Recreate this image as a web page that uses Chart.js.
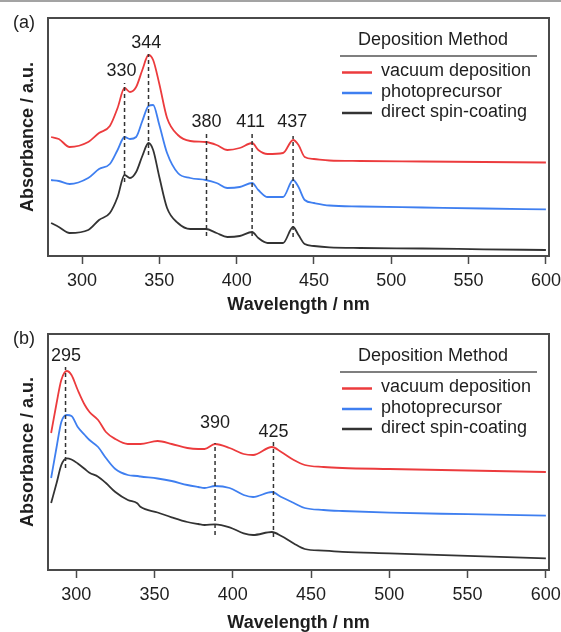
<!DOCTYPE html>
<html>
<head>
<meta charset="utf-8">
<title>Absorbance spectra by deposition method</title>
<script src="https://cdn.jsdelivr.net/npm/chart.js@4.4.1/dist/chart.umd.min.js"></script>
<style>
    body { margin: 0; background: #fff; }
    #topline { position: absolute; left: 0; top: 0; width: 561px; height: 2px; background: #a3a3a3; z-index: 2; }
    canvas { position: absolute; left: 0; }
    #chartA { top: 0; }
    #chartB { top: 316px; }
</style>
</head>
<body>
<div id="topline"></div>
<canvas id="chartA" width="561" height="316"></canvas>
<canvas id="chartB" width="561" height="316"></canvas>
<script>
const FONT = '"Liberation Sans", Arial, Helvetica, sans-serif';
const TEXT = '#1e1e1e';

// Legend
const legendTitle = 'Deposition Method';
const seriesNames = ['vacuum deposition', 'photoprecursor', 'direct spin-coating'];
const seriesColors = ['#ec3b3d', '#3f7ff0', '#333333'];
const xTicks = [300, 350, 400, 450, 500, 550, 600];

// Panel (a)
const wavelengthA = [280, 285, 292, 304, 311, 318, 323, 327.5, 331, 335, 339, 343, 346, 350, 355, 362, 370,
    380, 387, 394, 402, 410, 414, 420, 430, 436.5, 440, 444, 450, 460, 480, 520, 560, 600];
const vacuumA = [1.19, 1.17, 1.09, 1.14, 1.23, 1.30, 1.48, 1.68, 1.64, 1.69, 1.86, 2.01, 1.96, 1.72, 1.38, 1.21, 1.15,
    1.14, 1.11, 1.06, 1.08, 1.13, 1.06, 1.02, 1.03, 1.16, 1.11, 0.99, 0.97, 0.955, 0.95, 0.945, 0.94, 0.935];
const photoA = [0.76, 0.75, 0.72, 0.78, 0.87, 0.92, 1.06, 1.19, 1.17, 1.19, 1.35, 1.50, 1.51, 1.31, 1.03, 0.83, 0.78,
    0.76, 0.73, 0.68, 0.69, 0.73, 0.66, 0.59, 0.59, 0.76, 0.69, 0.56, 0.53, 0.505, 0.495, 0.485, 0.475, 0.467];
const spinA = [0.33, 0.29, 0.23, 0.26, 0.36, 0.43, 0.59, 0.81, 0.78, 0.84, 1.00, 1.13, 1.06, 0.79, 0.48, 0.33, 0.27,
    0.27, 0.23, 0.19, 0.20, 0.24, 0.18, 0.13, 0.13, 0.29, 0.21, 0.12, 0.10, 0.087, 0.08, 0.075, 0.067, 0.06];
const peakLabelsA = ['330', '344', '380', '411', '437'];
const peakPosA = [327.5, 343, 380.5, 410, 436.5];
const peakTopA = [1.73, 2.02, 1.23, 1.23, 1.20];
const peakBottomA = [0.74, 1.01, 0.20, 0.20, 0.19];
const labelXA = [325.5, 341.5, 380.5, 409, 436];
const labelYA = [1.85, 2.13, 1.34, 1.34, 1.34];

// Panel (b)
const wavelengthB = [284, 287.5, 290.5, 294, 297, 301, 305.5, 308.5, 314, 319, 325, 333, 339, 341, 352, 361,
    371, 378, 382, 388.7, 398, 407, 413, 425, 431, 439, 446, 458, 470, 500, 550, 600];
const vacuumB = [1.37, 1.67, 1.90, 1.99, 1.95, 1.80, 1.65, 1.58, 1.50, 1.38, 1.31, 1.26, 1.26, 1.26, 1.29, 1.26,
    1.22, 1.21, 1.21, 1.26, 1.22, 1.16, 1.15, 1.23, 1.18, 1.10, 1.05, 1.03, 1.02, 1.01, 0.995, 0.98];
const photoB = [0.92, 1.23, 1.48, 1.55, 1.54, 1.43, 1.35, 1.30, 1.23, 1.12, 1.01, 0.95, 0.94, 0.935, 0.915, 0.89,
    0.85, 0.83, 0.82, 0.84, 0.82, 0.75, 0.73, 0.78, 0.73, 0.67, 0.62, 0.60, 0.59, 0.573, 0.558, 0.543];
const spinB = [0.67, 0.87, 1.05, 1.117, 1.105, 1.065, 1.01, 0.973, 0.933, 0.87, 0.78, 0.70, 0.667, 0.633, 0.575, 0.527,
    0.48, 0.46, 0.45, 0.457, 0.427, 0.367, 0.35, 0.38, 0.34, 0.265, 0.21, 0.193, 0.182, 0.167, 0.142, 0.117];
const peakLabelsB = ['295', '390', '425'];
const peakPosB = [293.2, 388.7, 426];
const peakTopB = [2.03, 1.27, 1.28];
const peakBottomB = [1.02, 0.35, 0.33];
const labelXB = [293.5, 388.7, 426];
const labelYB = [2.14, 1.467, 1.383];

Chart.defaults.font.family = FONT;
Chart.defaults.font.size = 18;
Chart.defaults.color = TEXT;

// Frame, peak labels, panel tag and the legend box
const annotate = {
    id: 'annotate',
    afterDatasetsDraw(chart, args, opts) {
        const { ctx, chartArea: area, scales: { x, y } } = chart;
        ctx.save();

        ctx.strokeStyle = '#4a4a4a';
        ctx.lineWidth = 2;
        ctx.strokeRect(area.left, area.top, area.right - area.left, area.bottom - area.top);

        ctx.font = `18px ${FONT}`;
        ctx.fillStyle = TEXT;
        ctx.textAlign = 'center';
        ctx.textBaseline = 'middle';
        opts.labels.forEach((t, i) => {
            ctx.fillText(t, x.getPixelForValue(opts.labelX[i]), y.getPixelForValue(opts.labelY[i]));
        });

        ctx.textAlign = 'left';
        ctx.fillText(opts.tag, 13, area.top + 5);

        // legend
        const r = area.right, t = area.top;
        ctx.textAlign = 'center';
        ctx.fillText(legendTitle, r - 116, t + 22);
        ctx.strokeStyle = '#555';
        ctx.lineWidth = 1.5;
        ctx.beginPath();
        ctx.moveTo(r - 209, t + 38);
        ctx.lineTo(r - 12, t + 38);
        ctx.stroke();

        ctx.textAlign = 'left';
        ctx.lineWidth = 2.5;
        const rows = [54.5, 75, 95];
        chart.data.datasets.filter(d => !d.marker).forEach((d, i) => {
            ctx.strokeStyle = d.borderColor;
            ctx.beginPath();
            ctx.moveTo(r - 207, t + rows[i]);
            ctx.lineTo(r - 177, t + rows[i]);
            ctx.stroke();
            ctx.fillText(d.label, r - 168, t + rows[i] - 1);
        });
        ctx.restore();
    }
};

const makeChart = (id, p) => {
    const series = [p.vacuum, p.photo, p.spin].map((vals, s) => ({
        label: seriesNames[s],
        data: p.wavelength.map((w, i) => ({ x: w, y: vals[i] })),
        borderColor: seriesColors[s],
        borderWidth: 1.8,
        pointRadius: 0,
        cubicInterpolationMode: 'monotone',
        order: 1
    }));
    const markers = p.peakPos.map((w, i) => ({
        marker: true,
        data: [{ x: w, y: p.peakBottom[i] }, { x: w, y: p.peakTop[i] }],
        borderColor: '#333',
        borderWidth: 1.5,
        borderDash: [4, 3],
        pointRadius: 0,
        order: 0
    }));

    return new Chart(document.getElementById(id), {
        type: 'line',
        data: { datasets: series.concat(markers) },
        options: {
            responsive: false,
            animation: false,
            devicePixelRatio: 1,
            layout: { padding: { top: p.top, right: 12, left: 0, bottom: 0 } },
            plugins: {
                legend: { display: false },
                tooltip: { enabled: false },
                annotate: { labels: p.labels, labelX: p.labelX, labelY: p.labelY, tag: p.tag }
            },
            scales: {
                x: {
                    type: 'linear',
                    min: p.xMin,
                    max: 602,
                    afterBuildTicks: (s) => { s.ticks = xTicks.map(v => ({ value: v })); },
                    afterFit: (s) => { s.height = p.axisHeight; s.paddingLeft = 0; s.paddingRight = 0; },
                    border: { display: false },
                    grid: { drawOnChartArea: false, drawTicks: true, tickLength: 8, tickColor: '#4a4a4a', tickWidth: 1.5 },
                    ticks: { padding: 6, maxRotation: 0, font: { size: 18 } },
                    title: {
                        display: true,
                        text: 'Wavelength / nm',
                        font: { size: 18, weight: 'bold' },
                        padding: { top: 0, bottom: p.titlePad }
                    }
                },
                y: {
                    min: 0,
                    max: p.yMax,
                    afterFit: (s) => { s.width = 48; },
                    border: { display: false },
                    grid: { display: false },
                    ticks: { display: false },
                    title: {
                        display: true,
                        text: 'Absorbance / a.u.',
                        font: { size: 18, weight: 'bold' },
                        padding: { top: 17, bottom: 0 }
                    }
                }
            }
        },
        plugins: [annotate]
    });
};

makeChart('chartA', {
    tag: '(a)', top: 18, axisHeight: 60, titlePad: 0, xMin: 278, yMax: 2.38,
    wavelength: wavelengthA, vacuum: vacuumA, photo: photoA, spin: spinA,
    labels: peakLabelsA, peakPos: peakPosA, peakTop: peakTopA, peakBottom: peakBottomA,
    labelX: labelXA, labelY: labelYA
});

makeChart('chartB', {
    tag: '(b)', top: 18, axisHeight: 62, titlePad: -2, xMin: 282, yMax: 2.36,
    wavelength: wavelengthB, vacuum: vacuumB, photo: photoB, spin: spinB,
    labels: peakLabelsB, peakPos: peakPosB, peakTop: peakTopB, peakBottom: peakBottomB,
    labelX: labelXB, labelY: labelYB
});
</script>
</body>
</html>
